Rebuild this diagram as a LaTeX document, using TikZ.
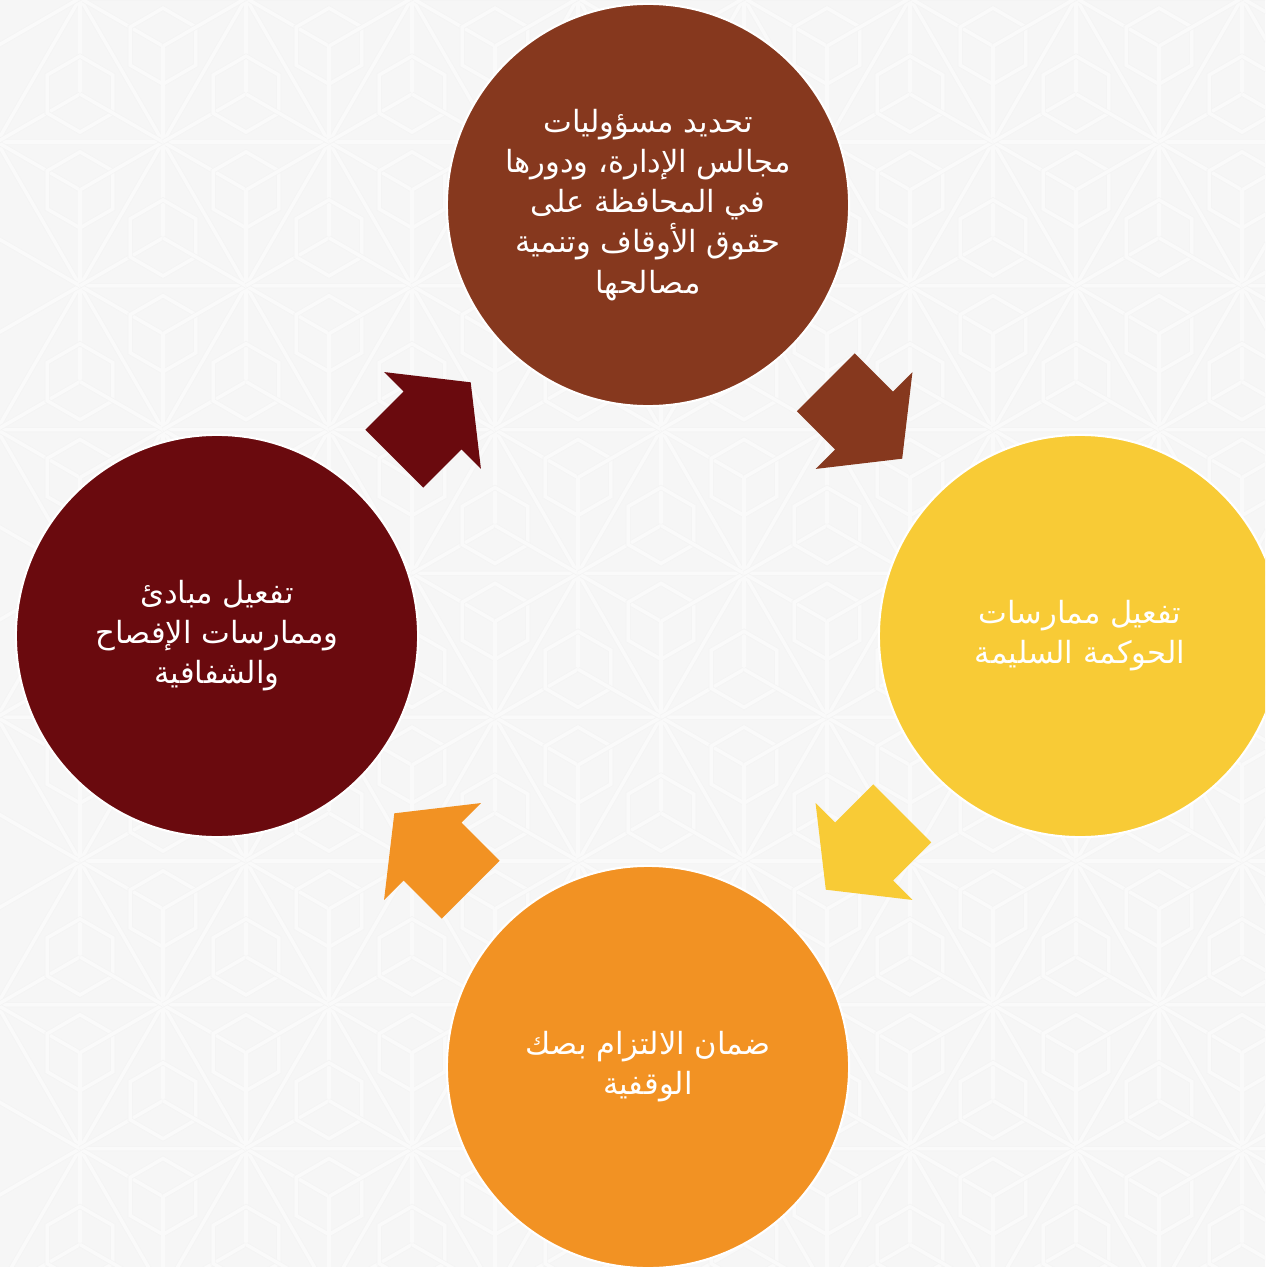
\documentclass[tikz,border=0pt]{standalone}
\usepackage{fontspec}
\usetikzlibrary{calc}
\TeXXeTstate=1
\newfontfamily\arabicfont[Script=Arabic]{DejaVu Sans}

\definecolor{bgpaper}{HTML}{F6F6F6}
\definecolor{waqfbrown}{HTML}{86381E}
\definecolor{waqfyellow}{HTML}{F8CB36}
\definecolor{waqforange}{HTML}{F29223}
\definecolor{waqfred}{HTML}{6A0A0E}

\tikzset{
    stage/.style={circle, minimum size=4.02cm, inner sep=0pt, draw=white,
        line width=0.6pt, text=white, align=center,
        font=\arabicfont\fontsize{8.7}{11.4}\selectfont},
    pattern line/.style={draw=gray!9, line width=0.2pt, double=white!50!bgpaper,
        double distance=1pt},
    cyclearrow/.pic={
        \fill (-54,-41) -- (0,-41) -- (0,-68.5) -- (54,0) -- (0,68.5)
            -- (0,41) -- (-54,41) -- cycle;
    }
}

\begin{document}
\begin{tikzpicture}[x=0.01cm, y=-0.01cm]
    \useasboundingbox (0,0) rectangle (1265,1267);
    \fill[bgpaper] (0,0) rectangle (1265,1267);
    \begin{scope}
        \clip (0,0) rectangle (1265,1267);
        \foreach \j in {-1,...,8} {
            \foreach \i in {-1,...,8} {
                \pgfmathsetmacro\px{163+166*\i+83*mod(\j+10,2)}
                \pgfmathsetmacro\py{142+143.8*\j}
                \draw[pattern line] (\px,\py) -- ++(166,0)
                    (\px,\py) -- ++(60:166) (\px,\py) -- ++(120:166);
                \foreach \a in {30,90,...,330}
                    \draw[pattern line] (\px,\py) -- ++(\a:95.8);
                \foreach \s in {-1,1}
                    \draw[pattern line] (\px+83,\py+47.9*\s) +(30:38) -- +(90:38)
                        -- +(150:38) -- +(210:38) -- +(270:38) -- +(330:38) -- cycle;
            }
        }

        \node[stage, fill=waqfbrown] (mandate) at (648,205)
            {\beginR تحديد مسؤوليات\endR\\
             \beginR مجالس الإدارة، ودورها\endR\\
             \beginR في المحافظة على\endR\\
             \beginR حقوق الأوقاف وتنمية\endR\\
             \beginR مصالحها\endR};
        \node[stage, fill=waqfyellow] (practice) at (1080,636)
            {\beginR تفعيل ممارسات\endR\\
             \beginR الحوكمة السليمة\endR};
        \node[stage, fill=waqforange] (deed) at (648,1067)
            {\beginR ضمان الالتزام بصك\endR\\
             \beginR الوقفية\endR};
        \node[stage, fill=waqfred] (disclosure) at (217,636)
            {\beginR تفعيل مبادئ\endR\\
             \beginR وممارسات الإفصاح\endR\\
             \beginR والشفافية\endR};
    \end{scope}

    \pic[fill=waqfbrown, rotate=-45] at ($(mandate)!0.5!(practice)$) {cyclearrow};
    \pic[fill=waqfyellow, rotate=-135] at ($(practice)!0.5!(deed)$) {cyclearrow};
    \pic[fill=waqforange, rotate=135] at ($(deed)!0.5!(disclosure)$) {cyclearrow};
    \pic[fill=waqfred, rotate=45] at ($(disclosure)!0.5!(mandate)$) {cyclearrow};
\end{tikzpicture}
\end{document}
